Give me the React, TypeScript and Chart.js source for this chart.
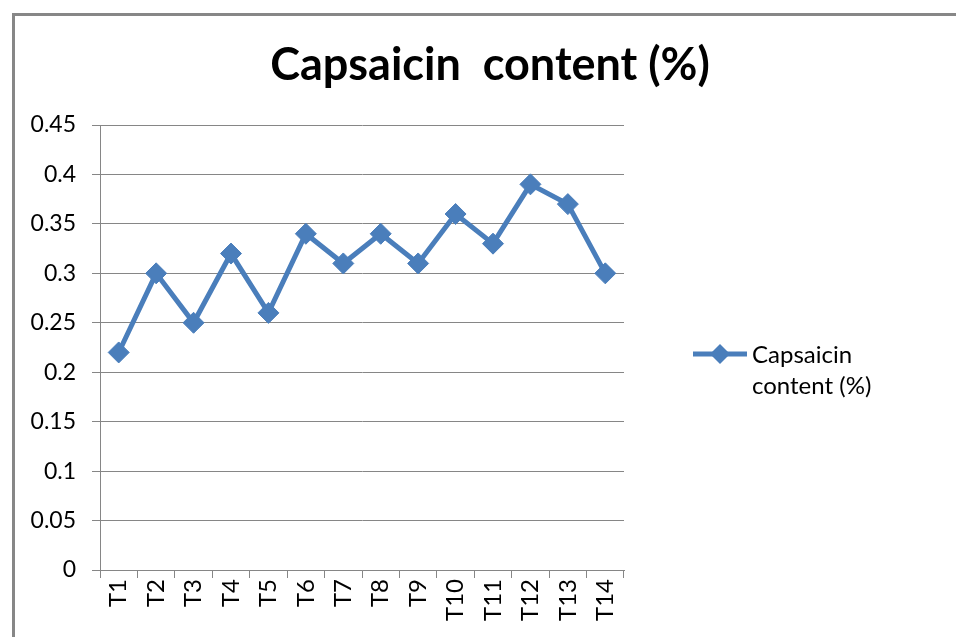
import React, { useEffect, useRef } from "react";
import { Chart, registerables } from "chart.js";

Chart.register(...registerables);

const chartTitle = "Capsaicin  content (%)";
const seriesLabel = ["Capsaicin", "content (%)"];
const categories = ["T1", "T2", "T3", "T4", "T5", "T6", "T7", "T8", "T9", "T10", "T11", "T12", "T13", "T14"];
const capsaicin = [0.22, 0.3, 0.25, 0.32, 0.26, 0.34, 0.31, 0.34, 0.31, 0.36, 0.33, 0.39, 0.37, 0.3];
const yTicks = [0, 0.05, 0.1, 0.15, 0.2, 0.25, 0.3, 0.35, 0.4, 0.45];

const BLUE = "#4A7EBB";
const GRID = "#868686";
const FONT = "Lato, 'Open Sans', sans-serif";

const overlayPlugin = {
  id: "overlay",
  afterDraw(chart: any) {
    const ctx = chart.ctx;
    ctx.save();
    // title
    ctx.fillStyle = "#000";
    ctx.font = `bold 45px ${FONT}`;
    ctx.textAlign = "center";
    ctx.textBaseline = "alphabetic";
    ctx.fillText(chartTitle, 490, 80);
    // legend
    const ly = 354;
    ctx.strokeStyle = BLUE;
    ctx.lineWidth = 5;
    ctx.beginPath();
    ctx.moveTo(693, ly);
    ctx.lineTo(747, ly);
    ctx.stroke();
    ctx.fillStyle = BLUE;
    ctx.beginPath();
    ctx.moveTo(720, ly - 10);
    ctx.lineTo(730, ly);
    ctx.lineTo(720, ly + 10);
    ctx.lineTo(710, ly);
    ctx.closePath();
    ctx.fill();
    ctx.fillStyle = "#000";
    ctx.font = `24px ${FONT}`;
    ctx.textAlign = "left";
    ctx.textBaseline = "middle";
    ctx.fillText(seriesLabel[0], 752, 355);
    ctx.fillText(seriesLabel[1], 752, 386);
    ctx.restore();
  },
};

export default function App() {
  const ref = useRef<HTMLCanvasElement>(null);
  useEffect(() => {
    if (!ref.current) return;
    const chart = new Chart(ref.current, {
      type: "line",
      data: {
        labels: categories,
        datasets: [
          {
            label: seriesLabel.join(" "),
            data: capsaicin,
            borderColor: BLUE,
            backgroundColor: BLUE,
            borderWidth: 5,
            pointStyle: "rectRot",
            pointRadius: 10.5,
            pointBorderWidth: 1,
            pointBackgroundColor: BLUE,
            pointBorderColor: BLUE,
            tension: 0,
          },
        ],
      },
      options: {
        responsive: false,
        animation: false,
        devicePixelRatio: 1,
        layout: { padding: { top: 125, right: 332, left: 0, bottom: 0 } },
        plugins: {
          legend: { display: false },
          title: { display: false },
          tooltip: { enabled: false },
        },
        scales: {
          x: {
            type: "category",
            offset: true,
            afterFit(scale: any) {
              scale.height = 67;
            },
            grid: {
              offset: true,
              drawOnChartArea: false,
              drawTicks: true,
              tickLength: 8,
              color: GRID,
              lineWidth: 1,
            },
            border: { color: GRID, width: 1 },
            ticks: {
              minRotation: 90,
              maxRotation: 90,
              autoSkip: false,
              padding: 1,
              color: "#000",
              font: { family: FONT, size: 24 },
            },
          },
          y: {
            min: 0,
            max: 0.45,
            afterFit(scale: any) {
              scale.width = 100;
            },
            afterBuildTicks(scale: any) {
              scale.ticks = yTicks.map((v) => ({ value: v }));
            },
            grid: {
              color: GRID,
              lineWidth: 1,
              drawTicks: true,
              tickLength: 8,
            },
            border: { color: GRID, width: 1 },
            ticks: {
              padding: 16,
              color: "#000",
              font: { family: FONT, size: 23 },
              callback: (v: any) => String(Number(v)),
            },
          },
        },
      },
      plugins: [overlayPlugin],
    });
    return () => chart.destroy();
  }, []);

  return (
    <>
      <div
        style={{
          position: "fixed",
          left: 12,
          top: 13,
          width: 2000,
          height: 2000,
          borderLeft: "3px solid #878787",
          borderTop: "3px solid #878787",
          boxSizing: "border-box",
        }}
      />
      <canvas
        ref={ref}
        width={956}
        height={637}
        style={{ position: "fixed", left: 0, top: 0, width: 956, height: 637 }}
      />
    </>
  );
}
